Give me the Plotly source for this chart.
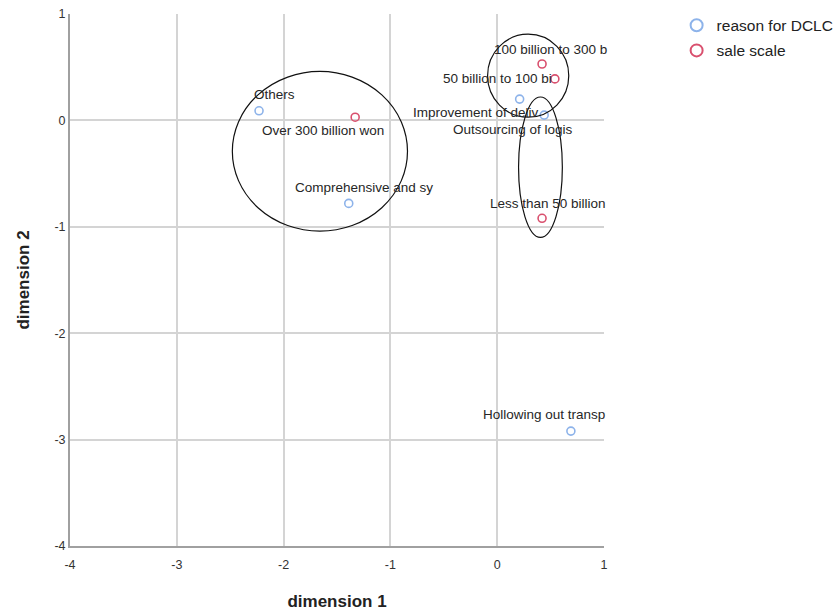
import plotly.graph_objects as go

# Category points from the correspondence analysis (dimension 1, dimension 2)
reason_labels = ["Others", "Comprehensive and sy", "Improvement of deliv",
                 "Outsourcing of logis", "Hollowing out transp"]
reason_x = [-2.23, -1.39, 0.21, 0.44, 0.69]
reason_y = [0.09, -0.78, 0.20, 0.05, -2.92]

scale_labels = ["100 billion to 300 b", "50 billion to 100 bi",
                "Over 300 billion won", "Less than 50 billion"]
scale_x = [0.42, 0.54, -1.33, 0.42]
scale_y = [0.53, 0.39, 0.03, -0.92]

# Label offsets in pixels (x, y) relative to each point
reason_offsets = [(15, 16), (15, 16), (-44, -13), (-31, -14), (-27, 17)]
scale_offsets = [(8, 15), (-57, 0), (-32, -13), (6, 15)]

# Hand-drawn cluster outlines: (x0, x1, y0, y1) in data units
clusters = [
    (-2.48, -0.84, -1.04, 0.46),
    (-0.09, 0.67, 0.03, 0.81),
    (0.20, 0.61, -1.10, 0.22),
]

x_ticks = [-4, -3, -2, -1, 0, 1]
y_ticks = [-4, -3, -2, -1, 0, 1]
tick_text = ["-4", "-3", "-2", "-1", "0", "1"]

BLUE = "#8db3ea"
RED = "#d9506e"
FONT = "Liberation Sans, Arial, sans-serif"

fig = go.Figure()
fig.add_trace(go.Scatter(
    x=reason_x, y=reason_y, mode="markers", name="reason for DCLC",
    legendgroup="a",
    marker=dict(symbol="circle-open", size=8, color=BLUE, line=dict(width=1.6)),
    cliponaxis=False,
))
fig.add_trace(go.Scatter(
    x=scale_x, y=scale_y, mode="markers", name="sale scale",
    legendgroup="b",
    marker=dict(symbol="circle-open", size=8, color=RED, line=dict(width=1.6)),
    cliponaxis=False,
))

annotations = []
for labels, xs, ys, offs in [(reason_labels, reason_x, reason_y, reason_offsets),
                             (scale_labels, scale_x, scale_y, scale_offsets)]:
    for t, x, y, (dx, dy) in zip(labels, xs, ys, offs):
        annotations.append(dict(
            x=x, y=y, text=t, showarrow=False, xshift=dx, yshift=dy,
            xanchor="center", yanchor="middle",
            font=dict(family=FONT, size=13.5, color="#262626"),
        ))

shapes = [dict(type="circle", xref="x", yref="y", x0=a, x1=b, y0=c, y1=d,
               line=dict(color="#111111", width=1.2), layer="above")
          for a, b, c, d in clusters]

axis_common = dict(
    showgrid=True, gridcolor="#d4d4d4", gridwidth=1.5,
    zeroline=False, showline=True, linecolor="#a0a0a0", linewidth=2,
    ticks="", tickfont=dict(family=FONT, size=12.5, color="#333333"),
    mirror=False,
)

fig.update_layout(
    width=837, height=613,
    margin=dict(l=70, r=233, t=14, b=67, autoexpand=False),
    paper_bgcolor="white", plot_bgcolor="white",
    font=dict(family=FONT),
    xaxis=dict(range=[-4, 1], tickvals=x_ticks, ticktext=tick_text,
               ticklabelstandoff=6, **axis_common,
               title=dict(text="<b>dimension 1</b>", font=dict(size=17, color="#222222"),
                          standoff=24)),
    yaxis=dict(range=[-4, 1], tickvals=y_ticks, ticktext=tick_text, **axis_common,
               title=dict(text="<b>dimension 2</b>", font=dict(size=17, color="#222222"),
                          standoff=20)),
    legend=dict(x=1.136, y=1.01, xanchor="left", yanchor="top",
                font=dict(family=FONT, size=15.5, color="#222222"),
                traceorder="grouped", tracegroupgap=2,
                itemsizing="constant", bgcolor="rgba(0,0,0,0)"),
    annotations=annotations,
    shapes=shapes,
)

fig.write_html("out.html")
